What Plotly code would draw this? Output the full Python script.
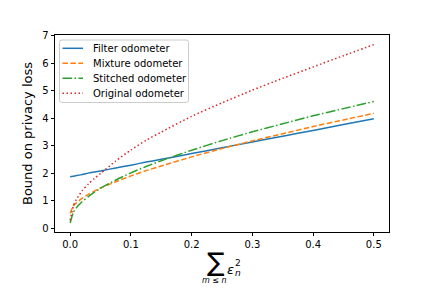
import plotly.graph_objects as go

x_vals = [0, 0.005, 0.01, 0.02, 0.03, 0.04, 0.05, 0.075, 0.1, 0.125, 0.15, 0.2, 0.25, 0.3, 0.35, 0.4, 0.45, 0.5]
filter_odo = [1.88, 1.90, 1.92, 1.96, 2.01, 2.05, 2.09, 2.20, 2.30, 2.41, 2.51, 2.72, 2.93, 3.14, 3.35, 3.56, 3.77, 3.98]
mixture_odo = [0.55, 0.82, 0.93, 1.10, 1.24, 1.36, 1.47, 1.70, 1.91, 2.10, 2.27, 2.60, 2.90, 3.18, 3.44, 3.70, 3.94, 4.18]
stitched_odo = [0.2, 0.58, 0.75, 0.98, 1.16, 1.32, 1.46, 1.76, 2.02, 2.25, 2.46, 2.84, 3.19, 3.51, 3.80, 4.09, 4.35, 4.61]
original_odo = [0.3, 0.8, 1.05, 1.38, 1.62, 1.82, 2.0, 2.45, 2.85, 3.2, 3.5, 4.07, 4.56, 5.02, 5.45, 5.86, 6.27, 6.67]

series = [
    ("Filter odometer", filter_odo, "#1f77b4", "solid"),
    ("Mixture odometer", mixture_odo, "#ff7f0e", "5.5px,2.4px"),
    ("Stitched odometer", stitched_odo, "#2ca02c", "9.6px,2.4px,1.5px,2.4px"),
    ("Original odometer", original_odo, "#d62728", "1.5px,2.5px"),
]

fig = go.Figure()
for name, ys, color, dash in series:
    fig.add_trace(go.Scatter(x=x_vals, y=ys, mode="lines", name=name, showlegend=False,
                             line=dict(color=color, width=1.5, dash=dash, shape="spline", smoothing=0.6)))

L, R, T, B = 55, 43, 35, 56
W, H = 432, 288
pw, ph = W - L - R, H - T - B

def px(xp):
    return (xp - L) / pw

def py(yp):
    return (H - B - yp) / ph

fig.update_layout(
    width=W, height=H,
    margin=dict(l=L, r=R, t=T, b=B, autoexpand=False),
    paper_bgcolor="white", plot_bgcolor="white",
    font=dict(family="DejaVu Sans", size=10, color="black"),
    showlegend=False,
    xaxis=dict(range=[-0.025, 0.525], tickvals=[0, 0.1, 0.2, 0.3, 0.4, 0.5],
               ticktext=["0.0", "0.1", "0.2", "0.3", "0.4", "0.5"],
               ticks="outside", ticklen=3.5, tickwidth=0.8, tickcolor="black",
               showline=True, linecolor="black", linewidth=0.8, mirror=True,
               showgrid=False, zeroline=False, tickfont=dict(size=10)),
    yaxis=dict(range=[-0.125, 7.02], tickvals=[0, 1, 2, 3, 4, 5, 6, 7],
               ticks="outside", ticklen=3.5, tickwidth=0.8, tickcolor="black",
               showline=True, linecolor="black", linewidth=0.8, mirror=True,
               showgrid=False, zeroline=False, tickfont=dict(size=10),
               title=dict(text="Bound on privacy loss", font=dict(size=13), standoff=6)),
)

# legend box (drawn manually to match compact matplotlib legend)
bx0, bx1, by0, by1 = 59.5, 188.5, 40, 102.5
r = 2.5
X0, X1, Y0, Y1 = px(bx0), px(bx1), py(by0), py(by1)
rx, ry = r / pw, r / ph
path = (f"M {X0+rx},{Y0} L {X1-rx},{Y0} Q {X1},{Y0} {X1},{Y0-ry} "
        f"L {X1},{Y1+ry} Q {X1},{Y1} {X1-rx},{Y1} L {X0+rx},{Y1} Q {X0},{Y1} {X0},{Y1+ry} "
        f"L {X0},{Y0-ry} Q {X0},{Y0} {X0+rx},{Y0} Z")
fig.add_shape(type="path", path=path, xref="paper", yref="paper",
              line=dict(color="#cccccc", width=1), fillcolor="rgba(255,255,255,0.8)", layer="above")

item_y = [48.3, 63.3, 78.3, 93.3]
for (name, ys, color, dash), yy in zip(series, item_y):
    fig.add_shape(type="line", xref="paper", yref="paper",
                  x0=px(62.5), x1=px(83), y0=py(yy), y1=py(yy),
                  line=dict(color=color, width=1.5, dash=dash), layer="above")
    fig.add_annotation(text=name, x=px(91), y=py(yy), xref="paper", yref="paper",
                       xanchor="left", yanchor="middle", showarrow=False,
                       font=dict(size=10, family="DejaVu Sans", color="black"))

annos = [
    dict(text="∑", x=px(216), y=py(261.5), size=26),
    dict(text="<i>m</i> ≤ <i>n</i>", x=px(214.5), y=py(280), size=8),
    dict(text="<i>ε</i>", x=px(230.5), y=py(269), size=13),
    dict(text="2", x=px(238), y=py(263), size=9),
    dict(text="<i>n</i>", x=px(238), y=py(273), size=9),
]
for a in annos:
    fig.add_annotation(text=a["text"], x=a["x"], y=a["y"], xref="paper", yref="paper",
                       xanchor="center", yanchor="middle", showarrow=False,
                       font=dict(size=a["size"], family="DejaVu Sans", color="black"))

fig.write_html("out.html", config={"displayModeBar": False},
               post_script="document.body.style.margin='0px';")
